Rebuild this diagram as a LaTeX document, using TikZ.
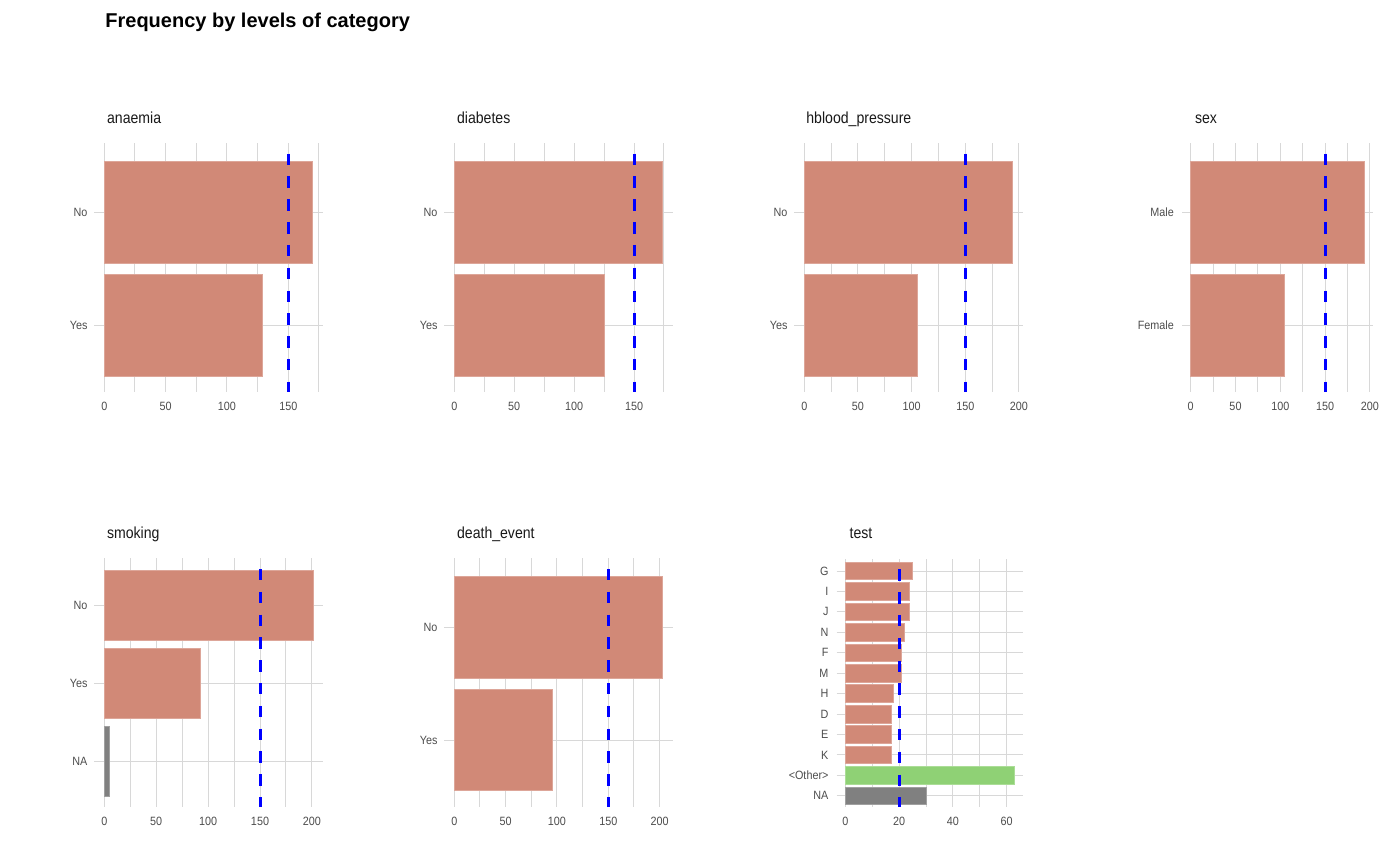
\documentclass[tikz,border=0pt]{standalone}
\usepackage{fontspec}
\setmainfont{Liberation Sans}
\newfontfamily\condfont[FakeStretch=0.9]{Liberation Sans}
\newfontfamily\stripfont[FakeStretch=0.88]{Liberation Sans}
\definecolor{barsalmon}{HTML}{D18977}
\definecolor{barother}{HTML}{8FD175}
\definecolor{barna}{HTML}{808080}
\definecolor{gridgray}{HTML}{D8D8D8}
\definecolor{ticktext}{HTML}{4D4D4D}

\begin{document}
\begin{tikzpicture}[x=0.5pt,y=-0.5pt,
		gridline/.style={gridgray,line width=0.5pt},
		freqbar/.style={fill=#1,draw=#1!75!white,line width=0.4pt},
		freqbar/.default=barsalmon,
		meanline/.style={blue,line width=1.5pt,dash pattern=on 5.7pt off 5.7pt},
		ticklab/.style={text=ticktext,font=\condfont\fontsize{6}{7}\selectfont,inner sep=0pt},
		levlab/.style={ticklab,anchor=east,xshift=-8.25pt},
		strip/.style={text=black!90,font=\stripfont\fontsize{8}{9}\selectfont,inner sep=0pt,anchor=base west}]
	\fill[white] (0,0) rectangle (1400,866);
	\useasboundingbox (0,0) rectangle (1400,866);
	\node[font=\bfseries\fontsize{10}{12}\selectfont,inner sep=0pt,anchor=base west] (title) at (105,27.3) {Frequency by levels of category};
	% top row
	\begin{scope}[shift={(104.3,0)},x=0.6134pt]
		\foreach \v in {0,25,...,175} \draw[gridline] (\v,143.3) -- (\v,391.7);
		\foreach \yy in {212.3,325.3} \draw[gridline] (-8.2,\yy) -- (178.5,\yy);
		\foreach \v/\yy/\lab [count=\i] in {170/212.3/No,129/325.3/Yes} {
			\draw[freqbar] (0,\yy-50.8) rectangle (\v,\yy+50.8);
			\node[levlab] (anaemia-lev\i) at (0,\yy) {\lab};
		}
		\foreach \v in {0,50,100,150} \node[ticklab] (anaemia-x\v) at (\v,406) {\v};
		\draw[meanline] (150,153.7) -- (150,391.7);
	\end{scope}
	\node[strip] (anaemia) at (106.7,123.3) {anaemia};
	\begin{scope}[shift={(454.3,0)},x=0.599pt]
		\foreach \v in {0,25,...,175} \draw[gridline] (\v,143.3) -- (\v,391.7);
		\foreach \yy in {212.3,325.3} \draw[gridline] (-8.4,\yy) -- (182.8,\yy);
		\foreach \v/\yy/\lab [count=\i] in {174/212.3/No,125/325.3/Yes} {
			\draw[freqbar] (0,\yy-50.8) rectangle (\v,\yy+50.8);
			\node[levlab] (diabetes-lev\i) at (0,\yy) {\lab};
		}
		\foreach \v in {0,50,100,150} \node[ticklab] (diabetes-x\v) at (\v,406) {\v};
		\draw[meanline] (150,153.7) -- (150,391.7);
	\end{scope}
	\node[strip] (diabetes) at (456.7,123.3) {diabetes};
	\begin{scope}[shift={(804.3,0)},x=0.5367pt]
		\foreach \v in {0,25,...,200} \draw[gridline] (\v,143.3) -- (\v,391.7);
		\foreach \yy in {212.3,325.3} \draw[gridline] (-9.3,\yy) -- (204,\yy);
		\foreach \v/\yy/\lab [count=\i] in {194/212.3/No,105/325.3/Yes} {
			\draw[freqbar] (0,\yy-50.8) rectangle (\v,\yy+50.8);
			\node[levlab] (hbp-lev\i) at (0,\yy) {\lab};
		}
		\foreach \v in {0,50,100,150,200} \node[ticklab] (hbp-x\v) at (\v,406) {\v};
		\draw[meanline] (150,153.7) -- (150,391.7);
	\end{scope}
	\node[strip] (hbp) at (806,123.3) {hblood\_pressure};
	\begin{scope}[shift={(1190.7,0)},x=0.4478pt]
		\foreach \v in {0,25,...,200} \draw[gridline] (\v,143.3) -- (\v,391.7);
		\foreach \yy in {212.3,325.3} \draw[gridline] (-9.7,\yy) -- (203.9,\yy);
		\foreach \v/\yy/\lab [count=\i] in {194/212.3/Male,105/325.3/Female} {
			\draw[freqbar] (0,\yy-50.8) rectangle (\v,\yy+50.8);
			\node[levlab] (sex-lev\i) at (0,\yy) {\lab};
		}
		\foreach \v in {0,50,100,150,200} \node[ticklab] (sex-x\v) at (\v,406) {\v};
		\draw[meanline] (150,153.7) -- (150,391.7);
	\end{scope}
	\node[strip] (sex) at (1194.7,123.3) {sex};
	% bottom row
	\begin{scope}[shift={(104.3,0)},x=0.519pt]
		\foreach \v in {0,25,...,200} \draw[gridline] (\v,558.3) -- (\v,806.7);
		\foreach \yy in {605.3,683.7,761.3} \draw[gridline] (-9.6,\yy) -- (211,\yy);
		\foreach \v/\yy/\lab/\col [count=\i] in {201/605.3/No/barsalmon,93/683.7/Yes/barsalmon,5/761.3/NA/barna} {
			\draw[freqbar=\col] (0,\yy-35) rectangle (\v,\yy+35);
			\node[levlab] (smoking-lev\i) at (0,\yy) {\lab};
		}
		\foreach \v in {0,50,100,150,200} \node[ticklab] (smoking-x\v) at (\v,821.5) {\v};
		\draw[meanline] (150,569) -- (150,806.7);
	\end{scope}
	\node[strip] (smoking) at (106.7,538.3) {smoking};
	\begin{scope}[shift={(454.3,0)},x=0.5133pt]
		\foreach \v in {0,25,...,200} \draw[gridline] (\v,558.3) -- (\v,806.7);
		\foreach \yy in {627.3,740} \draw[gridline] (-9.7,\yy) -- (213.3,\yy);
		\foreach \v/\yy/\lab [count=\i] in {203/627.3/No,96/740/Yes} {
			\draw[freqbar] (0,\yy-50.8) rectangle (\v,\yy+50.8);
			\node[levlab] (death-lev\i) at (0,\yy) {\lab};
		}
		\foreach \v in {0,50,100,150,200} \node[ticklab] (death-x\v) at (\v,821.5) {\v};
		\draw[meanline] (150,569) -- (150,806.7);
	\end{scope}
	\node[strip] (death) at (456.7,538.3) {death\_event};
	\begin{scope}[shift={(845.3,0)},x=1.345pt]
		\foreach \v in {0,10,...,60} \draw[gridline] (\v,559.3) -- (\v,807.3);
		\foreach \v/\lab/\col [count=\i] in {25/G/barsalmon,24/I/barsalmon,24/J/barsalmon,22/N/barsalmon,21/F/barsalmon,21/M/barsalmon,18/H/barsalmon,17/D/barsalmon,17/E/barsalmon,17/K/barsalmon,63/<Other>/barother,30/NA/barna} {
			\pgfmathsetmacro\yy{571+20.44*(\i-1)}
			\draw[gridline] (-3.2,\yy) -- (66.2,\yy);
			\draw[freqbar=\col] (0,\yy-8.85) rectangle (\v,\yy+8.85);
			\node[levlab] (test-lev\i) at (0,\yy) {\lab};
		}
		\foreach \v in {0,20,40,60} \node[ticklab] (test-x\v) at (\v,821.5) {\v};
		\draw[meanline] (20,569.3) -- (20,807.3);
	\end{scope}
	\node[strip] (test) at (849.3,538.3) {test};
\end{tikzpicture}
\end{document}
